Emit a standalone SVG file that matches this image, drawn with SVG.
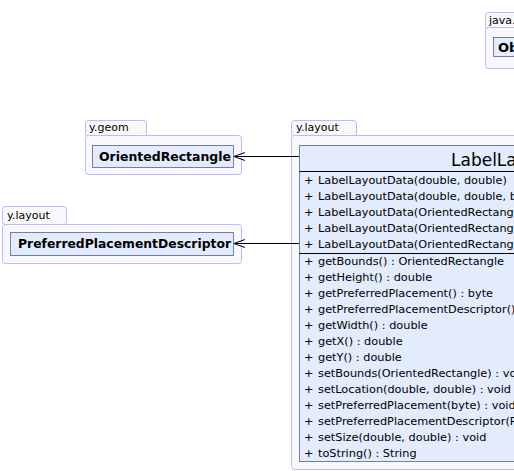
<svg xmlns="http://www.w3.org/2000/svg" width="514" height="471" viewBox="0 0 514 471">
<style>
.pkg{fill:#f8f8fa;stroke:#b4bcfa;stroke-width:1}
.cls{fill:#e2ecfc;stroke:#7a7ca8;stroke-width:1}
.sep{stroke:#000;stroke-width:1}
.ptxt{font-family:"DejaVu Sans",sans-serif;font-size:11px;fill:#000}
.ctxt{font-family:"DejaVu Sans",sans-serif;font-size:13px;font-weight:bold;fill:#000}
.mtxt{font-family:"DejaVu Sans",sans-serif;font-size:11.3px;fill:#000}
.ttl{font-family:"DejaVu Sans",sans-serif;font-size:17px;fill:#000}
.edge{stroke:#000;stroke-width:1;fill:none}
</style>
<defs>
<marker id="open" markerWidth="13" markerHeight="10" refX="12" refY="5" orient="auto" markerUnits="userSpaceOnUse">
<path d="M1,1 L12,5 L1,9" fill="none" stroke="#000" stroke-width="1"/>
</marker>
</defs>
<g id="pkg-java">
<rect class="pkg" x="485.5" y="12.5" width="60" height="16" rx="3"/>
<rect class="pkg" x="485.5" y="27.5" width="60" height="41" rx="3"/>
<text class="ptxt" x="489" y="24">java.lang</text>
<g id="node-object">
<rect class="cls" x="493.5" y="37.5" width="40" height="19"/>
<text class="ctxt" x="498" y="52">Object</text>
</g>
</g>
<g id="pkg-geom">
<rect class="pkg" x="85.5" y="120.5" width="61" height="16" rx="3"/>
<rect class="pkg" x="85.5" y="135.5" width="156" height="39" rx="3"/>
<text class="ptxt" x="89" y="131">y.geom</text>
<g id="node-orientedrectangle">
<rect class="cls" x="92.5" y="145.5" width="141" height="22"/>
<text class="ctxt" x="99" y="161" textLength="132" lengthAdjust="spacingAndGlyphs">OrientedRectangle</text>
</g>
</g>
<g id="pkg-layout-left">
<rect class="pkg" x="2.5" y="206.5" width="64" height="18" rx="3"/>
<rect class="pkg" x="2.5" y="224.5" width="239" height="39" rx="3"/>
<text class="ptxt" x="7" y="219">y.layout</text>
<g id="node-preferredplacementdescriptor">
<rect class="cls" x="10.5" y="232.5" width="223" height="23"/>
<text class="ctxt" x="18" y="248" textLength="213" lengthAdjust="spacingAndGlyphs">PreferredPlacementDescriptor</text>
</g>
</g>
<g id="pkg-layout-right">
<rect class="pkg" x="291.5" y="120.5" width="65" height="16" rx="3"/>
<rect class="pkg" x="291.5" y="135.5" width="240" height="334" rx="3"/>
<text class="ptxt" x="296" y="131">y.layout</text>
<g id="node-labellayoutdata">
<rect class="cls" x="299.5" y="145.5" width="230" height="316"/>
<text class="ttl" x="451" y="166">LabelLayoutData</text>
<line class="sep" x1="299.5" y1="171.5" x2="530" y2="171.5"/>
<line class="sep" x1="299.5" y1="253.5" x2="530" y2="253.5"/>
<g class="mtxt">
<text x="304" y="184">+</text><text x="318" y="184">LabelLayoutData(double, double)</text>
<text x="304" y="200">+</text><text x="318" y="200">LabelLayoutData(double, double, byte)</text>
<text x="304" y="216">+</text><text x="318" y="216">LabelLayoutData(OrientedRectangle)</text>
<text x="304" y="232">+</text><text x="318" y="232">LabelLayoutData(OrientedRectangle, byte)</text>
<text x="304" y="248">+</text><text x="318" y="248">LabelLayoutData(OrientedRectangle, PreferredPlacementDescriptor)</text>
<text x="304" y="265">+</text><text x="318" y="265">getBounds() : OrientedRectangle</text>
<text x="304" y="281">+</text><text x="318" y="281">getHeight() : double</text>
<text x="304" y="297">+</text><text x="318" y="297">getPreferredPlacement() : byte</text>
<text x="304" y="313">+</text><text x="318" y="313">getPreferredPlacementDescriptor() : PreferredPlacementDescriptor</text>
<text x="304" y="329">+</text><text x="318" y="329">getWidth() : double</text>
<text x="304" y="345">+</text><text x="318" y="345">getX() : double</text>
<text x="304" y="361">+</text><text x="318" y="361">getY() : double</text>
<text x="304" y="377">+</text><text x="318" y="377">setBounds(OrientedRectangle) : void</text>
<text x="304" y="393">+</text><text x="318" y="393">setLocation(double, double) : void</text>
<text x="304" y="409">+</text><text x="318" y="409">setPreferredPlacement(byte) : void</text>
<text x="304" y="425">+</text><text x="318" y="425">setPreferredPlacementDescriptor(PreferredPlacementDescriptor) : void</text>
<text x="304" y="441">+</text><text x="318" y="441">setSize(double, double) : void</text>
<text x="304" y="457">+</text><text x="318" y="457">toString() : String</text>
</g>
</g>
</g>
<g id="connectors">
<line class="edge" x1="299" y1="156.5" x2="234" y2="156.5" marker-end="url(#open)"/>
<line class="edge" x1="299" y1="243.5" x2="234" y2="243.5" marker-end="url(#open)"/>
</g>
</svg>
